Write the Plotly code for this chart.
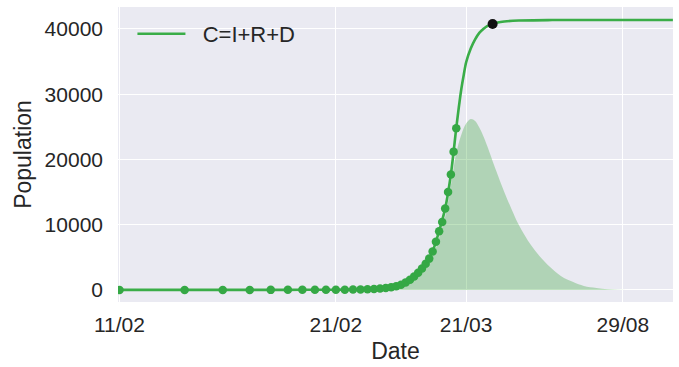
import plotly.graph_objects as go

# observed cumulative cases (day index, value)
dot_t = list(range(1, 37))
dot_c = [2, 3, 5, 7, 10, 13, 17, 22, 28, 35, 45, 60, 80, 110, 150, 210, 290, 400,
         560, 800, 1150, 1550, 2050, 2650, 3300, 4000, 4800, 5900, 7400, 9000,
         10400, 12500, 15000, 17700, 21200, 24800]

# fitted C = I + R + D
fit_t = [1, 2, 3, 4, 5, 6, 8, 10, 12, 14, 16, 18, 20, 22, 24, 26, 28, 30, 32, 34, 36,
         37, 38, 39, 40, 42, 44, 46, 48, 50, 53, 56, 60, 70, 100, 200, 361]
fit_c = [2, 3, 5, 7, 10, 13, 22, 35, 60, 110, 210, 400, 800, 1550, 2650, 4000, 5900,
         9000, 12500, 17700, 24800, 28000, 30800, 33000, 34900, 37000, 38400, 39400,
         40000, 40450, 40770, 41000, 41150, 41300, 41370, 41380, 41380]

# active infections I (shaded)
inf_t = [1, 10, 15, 20, 25, 28, 30, 32, 34, 36, 38, 40, 42, 44, 46, 48, 50, 55, 60, 65,
         70, 80, 90, 100, 110, 125, 140, 160, 180, 200, 220]
inf_c = [0, 20, 130, 700, 2900, 5200, 8000, 11200, 16000, 21000, 23800, 25500, 26200,
         25900, 24900, 23600, 22100, 18300, 15000, 12300, 10000, 6800, 4700, 3200, 2100,
         1200, 600, 300, 120, 30, 0]

# highlighted point
end_t = [53]
end_c = [40770]

tick_vals = [1, 10, 40, 212]
tick_text = ["11/02", "21/02", "21/03", "29/08"]
y_ticks = [0, 10000, 20000, 30000, 40000]

FONT = "Liberation Sans, Arial, sans-serif"
TXT = "#262626"

fig = go.Figure()
fig.add_trace(go.Scatter(x=inf_t, y=inf_c, mode="lines", line=dict(width=0, shape="spline"),
                         fill="tozeroy", fillcolor="rgba(44,160,44,0.3)",
                         showlegend=False, hoverinfo="skip"))
fig.add_trace(go.Scatter(x=fit_t, y=fit_c, mode="lines", name="&nbsp;&nbsp;C=I+R+D",
                         line=dict(color="#3aad48", width=2.6, shape="spline", smoothing=0.8)))
fig.add_trace(go.Scatter(x=dot_t, y=dot_c, mode="markers", showlegend=False,
                         marker=dict(color="#35a845", size=8.5)))
fig.add_trace(go.Scatter(x=end_t, y=end_c, mode="markers", showlegend=False,
                         marker=dict(color="#111111", size=10)))

fig.update_layout(
    width=679, height=367,
    margin=dict(l=118, r=6, t=7, b=65),
    paper_bgcolor="white", plot_bgcolor="#EAEAF2",
    font=dict(family=FONT, color=TXT, size=21),
    legend=dict(x=0.026, y=0.98, xanchor="left", yanchor="top",
                bgcolor="rgba(0,0,0,0)", font=dict(size=22), itemwidth=48),
)
fig.update_xaxes(type="log", range=[-0.0069, 2.558], tickvals=tick_vals, ticktext=tick_text,
                 showgrid=True, gridcolor="white", gridwidth=1.3, zeroline=False,
                 showline=False, ticks="", ticklabelstandoff=8,
                 title=dict(text="Date", font=dict(size=23), standoff=7),
                 tickfont=dict(size=21))
fig.update_yaxes(range=[-1850, 43370], tickvals=y_ticks, ticktext=[str(v) for v in y_ticks],
                 showgrid=True, gridcolor="white", gridwidth=1.3, zeroline=False,
                 showline=False, ticks="", ticklabelstandoff=14,
                 title=dict(text="Population", font=dict(size=23), standoff=6),
                 tickfont=dict(size=21))

fig.write_html("out.html")
